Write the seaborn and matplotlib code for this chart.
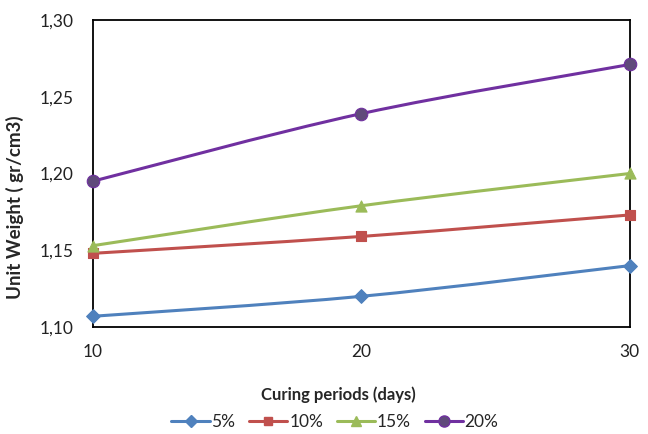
import numpy as np
import pandas as pd
import matplotlib
matplotlib.use("Agg")
import matplotlib.pyplot as plt
import seaborn as sns
from matplotlib.path import Path
from matplotlib.patches import PathPatch
from matplotlib.lines import Line2D
from matplotlib.ticker import FuncFormatter

# data
days = [10, 20, 30]
w5 = [1.107, 1.120, 1.140]
w10 = [1.148, 1.159, 1.173]
w15 = [1.153, 1.179, 1.200]
w20 = [1.195, 1.239, 1.271]
series_names = ["5%", "10%", "15%", "20%"]

line_colors = ["#4F81BD", "#C0504D", "#9BBB59", "#7030A0"]
face_colors = ["#4F81BD", "#C0504D", "#9BBB59", "#604A7B"]
markers = ["D", "s", "^", "o"]
msizes = [7, 7, 8, 9]

df = pd.DataFrame({
    "days": days * 4,
    "weight": w5 + w10 + w15 + w20,
    "mix": [s for s in series_names for _ in days],
})

sns.set_style("white")
plt.rcParams["font.family"] = ["Lato", "DejaVu Sans"]

fig = plt.figure(figsize=(6.48, 4.34), dpi=100)
ax = fig.add_axes([0.1435, 0.2465, 0.8285, 0.7075])


def smooth_path(xs, ys):
    # Excel-like smoothed line: Catmull-Rom converted to cubic Bezier
    pts = np.column_stack([xs, ys]).astype(float)
    ext = np.vstack([pts[0], pts, pts[-1]])
    verts = [tuple(pts[0])]
    codes = [Path.MOVETO]
    for i in range(1, len(ext) - 2):
        p0, p1, p2, p3 = ext[i - 1], ext[i], ext[i + 1], ext[i + 2]
        c1 = p1 + (p2 - p0) / 6.0
        c2 = p2 - (p3 - p1) / 6.0
        verts += [tuple(c1), tuple(c2), tuple(p2)]
        codes += [Path.CURVE4] * 3
    return Path(verts, codes)


for i, name in enumerate(series_names):
    sub = df[df["mix"] == name]
    patch = PathPatch(smooth_path(sub["days"], sub["weight"]), facecolor="none",
                      edgecolor=line_colors[i], lw=2.2, zorder=2)
    ax.add_patch(patch)
    sns.scatterplot(data=sub, x="days", y="weight", marker=markers[i],
                    s=msizes[i] ** 2, color=face_colors[i], edgecolor=line_colors[i],
                    linewidth=0.8, ax=ax, zorder=3, clip_on=False, legend=False)

ax.set_xlim(10, 30)
ax.set_ylim(1.10, 1.30)
ax.set_xticks([10, 20, 30])
ax.set_yticks([1.10, 1.15, 1.20, 1.25, 1.30])
ax.yaxis.set_major_formatter(FuncFormatter(lambda v, p: f"{v:.2f}".replace(".", ",")))
ax.tick_params(axis="both", length=0, labelsize=12.5, colors="#222222")
ax.tick_params(axis="x", pad=12)
ax.tick_params(axis="y", pad=14)
for sp in ax.spines.values():
    sp.set_color("black")
    sp.set_linewidth(1.3)

ax.set_xlabel("Curing periods (days)", fontsize=12, fontweight="bold")
ax.set_ylabel("Unit Weight ( gr/cm3)", fontsize=13.5, fontweight="bold")
ax.xaxis.set_label_coords(0.458, -0.195)
ax.yaxis.set_label_coords(-0.128, 0.39)

handles = [Line2D([], [], color=line_colors[i], lw=2.2, marker=markers[i],
                  markersize=msizes[i] - 1, markerfacecolor=face_colors[i],
                  markeredgecolor=line_colors[i]) for i in range(4)]
fig.legend(handles, series_names, loc="center", bbox_to_anchor=(0.517, 0.028),
           ncol=4, frameon=False, fontsize=12.5, handlelength=2.2,
           handletextpad=0.1, columnspacing=0.8)

fig.savefig("out.png", dpi=100)
